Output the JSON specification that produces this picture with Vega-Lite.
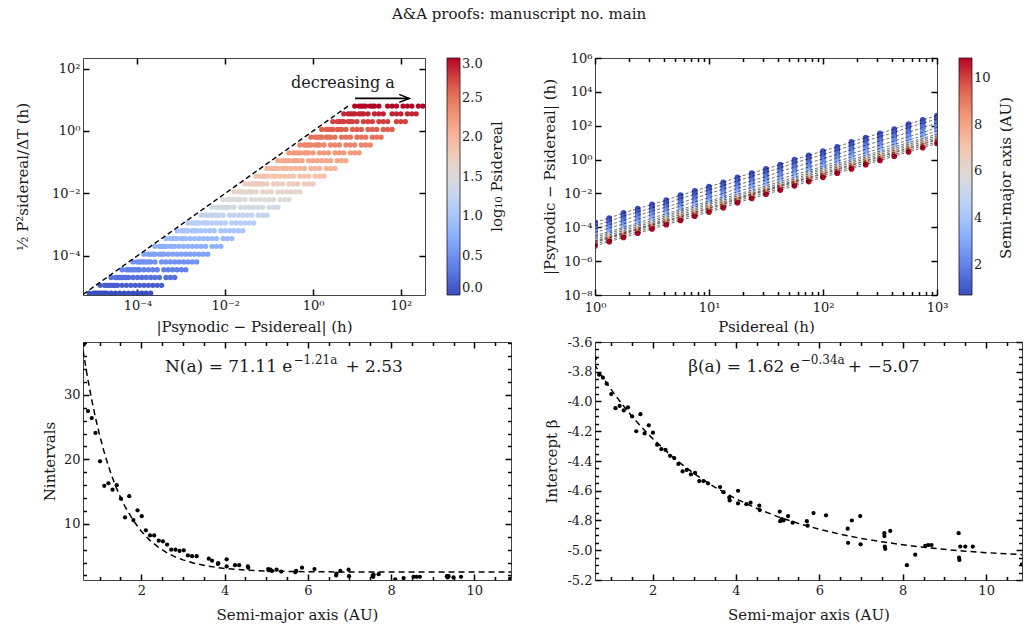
{
  "$schema": "https://vega.github.io/schema/vega-lite/v6.json",
  "usermeta": {"embedOptions": {"actions": false}},
  "background": "white",
  "padding": {"left": 14, "top": 6, "right": 5, "bottom": 5},
  "title": {"text": "A&A proofs: manuscript no. main", "font": "DejaVu Serif", "fontSize": 15, "fontWeight": "normal", "color": "#1a1a1a", "anchor": "middle", "offset": 30},
  "config": {
    "font": "DejaVu Serif",
    "view": {"stroke": "#444444", "strokeWidth": 1},
    "axis": {
      "domain": false, "grid": false, "zindex": 2,
      "labelFont": "DejaVu Serif", "labelFontSize": 13, "labelColor": "#1a1a1a",
      "titleFont": "DejaVu Serif", "titleFontSize": 15, "titleFontWeight": "normal", "titleColor": "#1a1a1a",
      "ticks": true, "tickColor": "#000000", "tickOpacity": 1, "tickWidth": 1.5, "tickSize": 6, "offset": -6, "labelPadding": 4,
      "labelFlush": false, "labelOverlap": false, "labelBound": false
    },
    "legend": {
      "gradientThickness": 13, "gradientLength": 237,
      "gradientStrokeColor": "#1a1a1a", "gradientStrokeWidth": 0.8,
      "labelFont": "DejaVu Serif", "labelFontSize": 13, "labelColor": "#1a1a1a", "labelOffset": 4,
      "offset": 21, "padding": 0
    }
  },
  "datasets": {
    "periods": [
      {"lp":0,"P":1,"h":6.31e-6},{"lp":0.125,"P":1.334,"h":1.12e-5},{"lp":0.25,"P":1.778,"h":2.0e-5},{"lp":0.375,"P":2.371,"h":3.55e-5},
      {"lp":0.5,"P":3.162,"h":6.31e-5},{"lp":0.625,"P":4.217,"h":1.12e-4},{"lp":0.75,"P":5.623,"h":2.0e-4},{"lp":0.875,"P":7.499,"h":3.55e-4},
      {"lp":1,"P":10,"h":6.31e-4},{"lp":1.125,"P":13.34,"h":1.12e-3},{"lp":1.25,"P":17.78,"h":2.0e-3},{"lp":1.375,"P":23.71,"h":3.55e-3},
      {"lp":1.5,"P":31.62,"h":6.31e-3},{"lp":1.625,"P":42.17,"h":1.12e-2},{"lp":1.75,"P":56.23,"h":2.0e-2},{"lp":1.875,"P":74.99,"h":3.55e-2},
      {"lp":2,"P":100,"h":6.31e-2},{"lp":2.125,"P":133.4,"h":0.112},{"lp":2.25,"P":177.8,"h":0.2},{"lp":2.375,"P":237.1,"h":0.355},
      {"lp":2.5,"P":316.2,"h":0.631},{"lp":2.625,"P":421.7,"h":1.12},{"lp":2.75,"P":562.3,"h":2.0},{"lp":2.875,"P":749.9,"h":3.55},
      {"lp":3,"P":1000,"h":6.31}
    ],
    "spread": [
      {"lp":0,"a":0.62,"dp":2e-4},{"lp":0.125,"a":0.62,"dp":3.55e-4},{"lp":0.25,"a":0.62,"dp":7.08e-4},{"lp":0.375,"a":0.62,"dp":1.26e-3},{"lp":0.5,"a":0.62,"dp":2.24e-3},{"lp":0.625,"a":0.62,"dp":3.98e-3},{"lp":0.75,"a":0.62,"dp":7.94e-3},{"lp":0.875,"a":0.62,"dp":1.41e-2},{"lp":1,"a":0.62,"dp":2.51e-2},{"lp":1.125,"a":0.62,"dp":4.47e-2},{"lp":1.25,"a":0.62,"dp":8.91e-2},{"lp":1.375,"a":0.62,"dp":0.158},{"lp":1.5,"a":0.62,"dp":0.282},{"lp":1.625,"a":0.62,"dp":0.501},{"lp":1.75,"a":0.62,"dp":1},{"lp":1.875,"a":0.62,"dp":1.78},{"lp":2,"a":0.62,"dp":3.16},{"lp":2.125,"a":0.62,"dp":5.62},{"lp":2.25,"a":0.62,"dp":11.2},{"lp":2.375,"a":0.62,"dp":20},{"lp":2.5,"a":0.62,"dp":35.5},{"lp":2.625,"a":0.62,"dp":63.1},{"lp":2.75,"a":0.62,"dp":126},{"lp":2.875,"a":0.62,"dp":224},{"lp":3,"a":0.62,"dp":398},
      {"lp":0,"a":0.72,"dp":1.58e-4},{"lp":0.125,"a":0.72,"dp":2.82e-4},{"lp":0.25,"a":0.72,"dp":5.62e-4},{"lp":0.375,"a":0.72,"dp":1e-3},{"lp":0.5,"a":0.72,"dp":1.78e-3},{"lp":0.625,"a":0.72,"dp":3.16e-3},{"lp":0.75,"a":0.72,"dp":6.31e-3},{"lp":0.875,"a":0.72,"dp":1.12e-2},{"lp":1,"a":0.72,"dp":2e-2},{"lp":1.125,"a":0.72,"dp":3.55e-2},{"lp":1.25,"a":0.72,"dp":7.08e-2},{"lp":1.375,"a":0.72,"dp":0.126},{"lp":1.5,"a":0.72,"dp":0.224},{"lp":1.625,"a":0.72,"dp":0.398},{"lp":1.75,"a":0.72,"dp":0.794},{"lp":1.875,"a":0.72,"dp":1.41},{"lp":2,"a":0.72,"dp":2.51},{"lp":2.125,"a":0.72,"dp":4.47},{"lp":2.25,"a":0.72,"dp":8.91},{"lp":2.375,"a":0.72,"dp":15.8},{"lp":2.5,"a":0.72,"dp":28.2},{"lp":2.625,"a":0.72,"dp":50.1},{"lp":2.75,"a":0.72,"dp":100},{"lp":2.875,"a":0.72,"dp":178},{"lp":3,"a":0.72,"dp":316},
      {"lp":0,"a":0.9,"dp":1.26e-4},{"lp":0.125,"a":0.9,"dp":2.24e-4},{"lp":0.25,"a":0.9,"dp":4.47e-4},{"lp":0.375,"a":0.9,"dp":7.94e-4},{"lp":0.5,"a":0.9,"dp":1.41e-3},{"lp":0.625,"a":0.9,"dp":2.51e-3},{"lp":0.75,"a":0.9,"dp":5.01e-3},{"lp":0.875,"a":0.9,"dp":8.91e-3},{"lp":1,"a":0.9,"dp":1.58e-2},{"lp":1.125,"a":0.9,"dp":2.82e-2},{"lp":1.25,"a":0.9,"dp":5.62e-2},{"lp":1.375,"a":0.9,"dp":0.1},{"lp":1.5,"a":0.9,"dp":0.178},{"lp":1.625,"a":0.9,"dp":0.316},{"lp":1.75,"a":0.9,"dp":0.631},{"lp":1.875,"a":0.9,"dp":1.12},{"lp":2,"a":0.9,"dp":2},{"lp":2.125,"a":0.9,"dp":3.55},{"lp":2.25,"a":0.9,"dp":7.08},{"lp":2.375,"a":0.9,"dp":12.6},{"lp":2.5,"a":0.9,"dp":22.4},{"lp":2.625,"a":0.9,"dp":39.8},{"lp":2.75,"a":0.9,"dp":79.4},{"lp":2.875,"a":0.9,"dp":141},{"lp":3,"a":0.9,"dp":251},
      {"lp":0,"a":1.21,"dp":1e-4},{"lp":0.125,"a":1.21,"dp":1.78e-4},{"lp":0.25,"a":1.21,"dp":3.16e-4},{"lp":0.375,"a":1.21,"dp":6.31e-4},{"lp":0.5,"a":1.21,"dp":1.12e-3},{"lp":0.625,"a":1.21,"dp":2e-3},{"lp":0.75,"a":1.21,"dp":3.55e-3},{"lp":0.875,"a":1.21,"dp":6.31e-3},{"lp":1,"a":1.21,"dp":1.26e-2},{"lp":1.125,"a":1.21,"dp":2.24e-2},{"lp":1.25,"a":1.21,"dp":3.98e-2},{"lp":1.375,"a":1.21,"dp":7.08e-2},{"lp":1.5,"a":1.21,"dp":0.126},{"lp":1.625,"a":1.21,"dp":0.251},{"lp":1.75,"a":1.21,"dp":0.447},{"lp":1.875,"a":1.21,"dp":0.794},{"lp":2,"a":1.21,"dp":1.41},{"lp":2.125,"a":1.21,"dp":2.51},{"lp":2.25,"a":1.21,"dp":5.01},{"lp":2.375,"a":1.21,"dp":8.91},{"lp":2.5,"a":1.21,"dp":15.8},{"lp":2.625,"a":1.21,"dp":28.2},{"lp":2.75,"a":1.21,"dp":50.1},{"lp":2.875,"a":1.21,"dp":100},{"lp":3,"a":1.21,"dp":178},
      {"lp":0,"a":1.51,"dp":7.94e-5},{"lp":0.125,"a":1.51,"dp":1.41e-4},{"lp":0.25,"a":1.51,"dp":2.51e-4},{"lp":0.375,"a":1.51,"dp":5.01e-4},{"lp":0.5,"a":1.51,"dp":8.91e-4},{"lp":0.625,"a":1.51,"dp":1.58e-3},{"lp":0.75,"a":1.51,"dp":2.82e-3},{"lp":0.875,"a":1.51,"dp":5.01e-3},{"lp":1,"a":1.51,"dp":1e-2},{"lp":1.125,"a":1.51,"dp":1.78e-2},{"lp":1.25,"a":1.51,"dp":3.16e-2},{"lp":1.375,"a":1.51,"dp":5.62e-2},{"lp":1.5,"a":1.51,"dp":0.1},{"lp":1.625,"a":1.51,"dp":0.2},{"lp":1.75,"a":1.51,"dp":0.355},{"lp":1.875,"a":1.51,"dp":0.631},{"lp":2,"a":1.51,"dp":1.12},{"lp":2.125,"a":1.51,"dp":2},{"lp":2.25,"a":1.51,"dp":3.98},{"lp":2.375,"a":1.51,"dp":7.08},{"lp":2.5,"a":1.51,"dp":12.6},{"lp":2.625,"a":1.51,"dp":22.4},{"lp":2.75,"a":1.51,"dp":39.8},{"lp":2.875,"a":1.51,"dp":79.4},{"lp":3,"a":1.51,"dp":141},
      {"lp":0,"a":2.01,"dp":6.31e-5},{"lp":0.125,"a":2.01,"dp":1.12e-4},{"lp":0.25,"a":2.01,"dp":2e-4},{"lp":0.375,"a":2.01,"dp":3.98e-4},{"lp":0.5,"a":2.01,"dp":7.08e-4},{"lp":0.625,"a":2.01,"dp":1.26e-3},{"lp":0.75,"a":2.01,"dp":2.24e-3},{"lp":0.875,"a":2.01,"dp":3.98e-3},{"lp":1,"a":2.01,"dp":7.94e-3},{"lp":1.125,"a":2.01,"dp":1.41e-2},{"lp":1.25,"a":2.01,"dp":2.51e-2},{"lp":1.375,"a":2.01,"dp":4.47e-2},{"lp":1.5,"a":2.01,"dp":7.94e-2},{"lp":1.625,"a":2.01,"dp":0.158},{"lp":1.75,"a":2.01,"dp":0.282},{"lp":1.875,"a":2.01,"dp":0.501},{"lp":2,"a":2.01,"dp":0.891},{"lp":2.125,"a":2.01,"dp":1.58},{"lp":2.25,"a":2.01,"dp":3.16},{"lp":2.375,"a":2.01,"dp":5.62},{"lp":2.5,"a":2.01,"dp":10},{"lp":2.625,"a":2.01,"dp":17.8},{"lp":2.75,"a":2.01,"dp":31.6},{"lp":2.875,"a":2.01,"dp":63.1},{"lp":3,"a":2.01,"dp":112},
      {"lp":0,"a":2.21,"dp":5.01e-5},{"lp":0.125,"a":2.21,"dp":8.91e-5},{"lp":0.25,"a":2.21,"dp":1.58e-4},{"lp":0.375,"a":2.21,"dp":2.82e-4},{"lp":0.5,"a":2.21,"dp":5.62e-4},{"lp":0.625,"a":2.21,"dp":1e-3},{"lp":0.75,"a":2.21,"dp":1.78e-3},{"lp":0.875,"a":2.21,"dp":3.16e-3},{"lp":1,"a":2.21,"dp":5.62e-3},{"lp":1.125,"a":2.21,"dp":1e-2},{"lp":1.25,"a":2.21,"dp":2e-2},{"lp":1.375,"a":2.21,"dp":3.55e-2},{"lp":1.5,"a":2.21,"dp":6.31e-2},{"lp":1.625,"a":2.21,"dp":0.112},{"lp":1.75,"a":2.21,"dp":0.2},{"lp":1.875,"a":2.21,"dp":0.355},{"lp":2,"a":2.21,"dp":0.631},{"lp":2.125,"a":2.21,"dp":1.26},{"lp":2.25,"a":2.21,"dp":2.24},{"lp":2.375,"a":2.21,"dp":3.98},{"lp":2.5,"a":2.21,"dp":7.08},{"lp":2.625,"a":2.21,"dp":12.6},{"lp":2.75,"a":2.21,"dp":22.4},{"lp":2.875,"a":2.21,"dp":39.8},{"lp":3,"a":2.21,"dp":79.4},
      {"lp":0,"a":2.62,"dp":3.98e-5},{"lp":0.125,"a":2.62,"dp":7.08e-5},{"lp":0.25,"a":2.62,"dp":1.26e-4},{"lp":0.375,"a":2.62,"dp":2.24e-4},{"lp":0.5,"a":2.62,"dp":4.47e-4},{"lp":0.625,"a":2.62,"dp":7.94e-4},{"lp":0.75,"a":2.62,"dp":1.41e-3},{"lp":0.875,"a":2.62,"dp":2.51e-3},{"lp":1,"a":2.62,"dp":4.47e-3},{"lp":1.125,"a":2.62,"dp":7.94e-3},{"lp":1.25,"a":2.62,"dp":1.58e-2},{"lp":1.375,"a":2.62,"dp":2.82e-2},{"lp":1.5,"a":2.62,"dp":5.01e-2},{"lp":1.625,"a":2.62,"dp":8.91e-2},{"lp":1.75,"a":2.62,"dp":0.158},{"lp":1.875,"a":2.62,"dp":0.282},{"lp":2,"a":2.62,"dp":0.501},{"lp":2.125,"a":2.62,"dp":1},{"lp":2.25,"a":2.62,"dp":1.78},{"lp":2.375,"a":2.62,"dp":3.16},{"lp":2.5,"a":2.62,"dp":5.62},{"lp":2.625,"a":2.62,"dp":10},{"lp":2.75,"a":2.62,"dp":17.8},{"lp":2.875,"a":2.62,"dp":31.6},{"lp":3,"a":2.62,"dp":63.1},
      {"lp":0,"a":3.02,"dp":3.16e-5},{"lp":0.125,"a":3.02,"dp":5.62e-5},{"lp":0.25,"a":3.02,"dp":1e-4},{"lp":0.375,"a":3.02,"dp":1.78e-4},{"lp":0.5,"a":3.02,"dp":3.55e-4},{"lp":0.625,"a":3.02,"dp":6.31e-4},{"lp":0.75,"a":3.02,"dp":1.12e-3},{"lp":0.875,"a":3.02,"dp":2e-3},{"lp":1,"a":3.02,"dp":3.55e-3},{"lp":1.125,"a":3.02,"dp":6.31e-3},{"lp":1.25,"a":3.02,"dp":1.26e-2},{"lp":1.375,"a":3.02,"dp":2.24e-2},{"lp":1.5,"a":3.02,"dp":3.98e-2},{"lp":1.625,"a":3.02,"dp":7.08e-2},{"lp":1.75,"a":3.02,"dp":0.126},{"lp":1.875,"a":3.02,"dp":0.224},{"lp":2,"a":3.02,"dp":0.398},{"lp":2.125,"a":3.02,"dp":0.794},{"lp":2.25,"a":3.02,"dp":1.41},{"lp":2.375,"a":3.02,"dp":2.51},{"lp":2.5,"a":3.02,"dp":4.47},{"lp":2.625,"a":3.02,"dp":7.94},{"lp":2.75,"a":3.02,"dp":14.1},{"lp":2.875,"a":3.02,"dp":25.1},{"lp":3,"a":3.02,"dp":50.1},
      {"lp":0,"a":3.7,"dp":2.51e-5},{"lp":0.125,"a":3.7,"dp":4.47e-5},{"lp":0.25,"a":3.7,"dp":7.94e-5},{"lp":0.375,"a":3.7,"dp":1.41e-4},{"lp":0.5,"a":3.7,"dp":2.51e-4},{"lp":0.625,"a":3.7,"dp":5.01e-4},{"lp":0.75,"a":3.7,"dp":8.91e-4},{"lp":0.875,"a":3.7,"dp":1.58e-3},{"lp":1,"a":3.7,"dp":2.82e-3},{"lp":1.125,"a":3.7,"dp":5.01e-3},{"lp":1.25,"a":3.7,"dp":8.91e-3},{"lp":1.375,"a":3.7,"dp":1.58e-2},{"lp":1.5,"a":3.7,"dp":2.82e-2},{"lp":1.625,"a":3.7,"dp":5.01e-2},{"lp":1.75,"a":3.7,"dp":8.91e-2},{"lp":1.875,"a":3.7,"dp":0.178},{"lp":2,"a":3.7,"dp":0.316},{"lp":2.125,"a":3.7,"dp":0.562},{"lp":2.25,"a":3.7,"dp":1},{"lp":2.375,"a":3.7,"dp":1.78},{"lp":2.5,"a":3.7,"dp":3.16},{"lp":2.625,"a":3.7,"dp":5.62},{"lp":2.75,"a":3.7,"dp":10},{"lp":2.875,"a":3.7,"dp":17.8},{"lp":3,"a":3.7,"dp":31.6},
      {"lp":0,"a":4.56,"dp":2e-5},{"lp":0.125,"a":4.56,"dp":3.55e-5},{"lp":0.25,"a":4.56,"dp":6.31e-5},{"lp":0.375,"a":4.56,"dp":1.12e-4},{"lp":0.5,"a":4.56,"dp":2e-4},{"lp":0.625,"a":4.56,"dp":3.98e-4},{"lp":0.75,"a":4.56,"dp":7.08e-4},{"lp":0.875,"a":4.56,"dp":1.26e-3},{"lp":1,"a":4.56,"dp":2.24e-3},{"lp":1.125,"a":4.56,"dp":3.98e-3},{"lp":1.25,"a":4.56,"dp":7.08e-3},{"lp":1.375,"a":4.56,"dp":1.26e-2},{"lp":1.5,"a":4.56,"dp":2.24e-2},{"lp":1.625,"a":4.56,"dp":3.98e-2},{"lp":1.75,"a":4.56,"dp":7.08e-2},{"lp":1.875,"a":4.56,"dp":0.141},{"lp":2,"a":4.56,"dp":0.251},{"lp":2.125,"a":4.56,"dp":0.447},{"lp":2.25,"a":4.56,"dp":0.794},{"lp":2.375,"a":4.56,"dp":1.41},{"lp":2.5,"a":4.56,"dp":2.51},{"lp":2.625,"a":4.56,"dp":4.47},{"lp":2.75,"a":4.56,"dp":7.94},{"lp":2.875,"a":4.56,"dp":14.1},{"lp":3,"a":4.56,"dp":25.1},
      {"lp":0,"a":5.05,"dp":1.78e-5},{"lp":0.125,"a":5.05,"dp":3.16e-5},{"lp":0.25,"a":5.05,"dp":5.62e-5},{"lp":0.375,"a":5.05,"dp":1e-4},{"lp":0.5,"a":5.05,"dp":1.78e-4},{"lp":0.625,"a":5.05,"dp":3.55e-4},{"lp":0.75,"a":5.05,"dp":6.31e-4},{"lp":0.875,"a":5.05,"dp":1.12e-3},{"lp":1,"a":5.05,"dp":2e-3},{"lp":1.125,"a":5.05,"dp":3.55e-3},{"lp":1.25,"a":5.05,"dp":6.31e-3},{"lp":1.375,"a":5.05,"dp":1.12e-2},{"lp":1.5,"a":5.05,"dp":2e-2},{"lp":1.625,"a":5.05,"dp":3.55e-2},{"lp":1.75,"a":5.05,"dp":6.31e-2},{"lp":1.875,"a":5.05,"dp":0.126},{"lp":2,"a":5.05,"dp":0.224},{"lp":2.125,"a":5.05,"dp":0.398},{"lp":2.25,"a":5.05,"dp":0.708},{"lp":2.375,"a":5.05,"dp":1.26},{"lp":2.5,"a":5.05,"dp":2.24},{"lp":2.625,"a":5.05,"dp":3.98},{"lp":2.75,"a":5.05,"dp":7.08},{"lp":2.875,"a":5.05,"dp":12.6},{"lp":3,"a":5.05,"dp":22.4},
      {"lp":0,"a":5.7,"dp":1.58e-5},{"lp":0.125,"a":5.7,"dp":2.82e-5},{"lp":0.25,"a":5.7,"dp":5.01e-5},{"lp":0.375,"a":5.7,"dp":8.91e-5},{"lp":0.5,"a":5.7,"dp":1.58e-4},{"lp":0.625,"a":5.7,"dp":3.16e-4},{"lp":0.75,"a":5.7,"dp":5.62e-4},{"lp":0.875,"a":5.7,"dp":1e-3},{"lp":1,"a":5.7,"dp":1.78e-3},{"lp":1.125,"a":5.7,"dp":3.16e-3},{"lp":1.25,"a":5.7,"dp":5.62e-3},{"lp":1.375,"a":5.7,"dp":1e-2},{"lp":1.5,"a":5.7,"dp":1.78e-2},{"lp":1.625,"a":5.7,"dp":3.16e-2},{"lp":1.75,"a":5.7,"dp":5.62e-2},{"lp":1.875,"a":5.7,"dp":0.112},{"lp":2,"a":5.7,"dp":0.2},{"lp":2.125,"a":5.7,"dp":0.355},{"lp":2.25,"a":5.7,"dp":0.631},{"lp":2.375,"a":5.7,"dp":1.12},{"lp":2.5,"a":5.7,"dp":2},{"lp":2.625,"a":5.7,"dp":3.55},{"lp":2.75,"a":5.7,"dp":6.31},{"lp":2.875,"a":5.7,"dp":11.2},{"lp":3,"a":5.7,"dp":20},
      {"lp":0,"a":6.68,"dp":1.41e-5},{"lp":0.125,"a":6.68,"dp":2.51e-5},{"lp":0.25,"a":6.68,"dp":4.47e-5},{"lp":0.375,"a":6.68,"dp":7.94e-5},{"lp":0.5,"a":6.68,"dp":1.41e-4},{"lp":0.625,"a":6.68,"dp":2.51e-4},{"lp":0.75,"a":6.68,"dp":4.47e-4},{"lp":0.875,"a":6.68,"dp":7.94e-4},{"lp":1,"a":6.68,"dp":1.41e-3},{"lp":1.125,"a":6.68,"dp":2.51e-3},{"lp":1.25,"a":6.68,"dp":5.01e-3},{"lp":1.375,"a":6.68,"dp":8.91e-3},{"lp":1.5,"a":6.68,"dp":1.58e-2},{"lp":1.625,"a":6.68,"dp":2.82e-2},{"lp":1.75,"a":6.68,"dp":5.01e-2},{"lp":1.875,"a":6.68,"dp":8.91e-2},{"lp":2,"a":6.68,"dp":0.158},{"lp":2.125,"a":6.68,"dp":0.282},{"lp":2.25,"a":6.68,"dp":0.501},{"lp":2.375,"a":6.68,"dp":0.891},{"lp":2.5,"a":6.68,"dp":1.58},{"lp":2.625,"a":6.68,"dp":2.82},{"lp":2.75,"a":6.68,"dp":5.01},{"lp":2.875,"a":6.68,"dp":8.91},{"lp":3,"a":6.68,"dp":15.8},
      {"lp":0,"a":6.99,"dp":1.12e-5},{"lp":0.125,"a":6.99,"dp":2e-5},{"lp":0.25,"a":6.99,"dp":3.55e-5},{"lp":0.375,"a":6.99,"dp":6.31e-5},{"lp":0.5,"a":6.99,"dp":1.12e-4},{"lp":0.625,"a":6.99,"dp":2e-4},{"lp":0.75,"a":6.99,"dp":3.55e-4},{"lp":0.875,"a":6.99,"dp":6.31e-4},{"lp":1,"a":6.99,"dp":1.12e-3},{"lp":1.125,"a":6.99,"dp":2e-3},{"lp":1.25,"a":6.99,"dp":3.98e-3},{"lp":1.375,"a":6.99,"dp":7.08e-3},{"lp":1.5,"a":6.99,"dp":1.26e-2},{"lp":1.625,"a":6.99,"dp":2.24e-2},{"lp":1.75,"a":6.99,"dp":3.98e-2},{"lp":1.875,"a":6.99,"dp":7.08e-2},{"lp":2,"a":6.99,"dp":0.126},{"lp":2.125,"a":6.99,"dp":0.224},{"lp":2.25,"a":6.99,"dp":0.398},{"lp":2.375,"a":6.99,"dp":0.708},{"lp":2.5,"a":6.99,"dp":1.26},{"lp":2.625,"a":6.99,"dp":2.24},{"lp":2.75,"a":6.99,"dp":3.98},{"lp":2.875,"a":6.99,"dp":7.08},{"lp":3,"a":6.99,"dp":12.6},
      {"lp":0,"a":7.56,"dp":1.26e-5},{"lp":0.125,"a":7.56,"dp":2.24e-5},{"lp":0.25,"a":7.56,"dp":3.98e-5},{"lp":0.375,"a":7.56,"dp":7.08e-5},{"lp":0.5,"a":7.56,"dp":1.26e-4},{"lp":0.625,"a":7.56,"dp":2.24e-4},{"lp":0.75,"a":7.56,"dp":3.98e-4},{"lp":0.875,"a":7.56,"dp":7.08e-4},{"lp":1,"a":7.56,"dp":1.26e-3},{"lp":1.125,"a":7.56,"dp":2.24e-3},{"lp":1.25,"a":7.56,"dp":4.47e-3},{"lp":1.375,"a":7.56,"dp":7.94e-3},{"lp":1.5,"a":7.56,"dp":1.41e-2},{"lp":1.625,"a":7.56,"dp":2.51e-2},{"lp":1.75,"a":7.56,"dp":4.47e-2},{"lp":1.875,"a":7.56,"dp":7.94e-2},{"lp":2,"a":7.56,"dp":0.141},{"lp":2.125,"a":7.56,"dp":0.251},{"lp":2.25,"a":7.56,"dp":0.447},{"lp":2.375,"a":7.56,"dp":0.794},{"lp":2.5,"a":7.56,"dp":1.41},{"lp":2.625,"a":7.56,"dp":2.51},{"lp":2.75,"a":7.56,"dp":4.47},{"lp":2.875,"a":7.56,"dp":7.94},{"lp":3,"a":7.56,"dp":14.1},
      {"lp":0,"a":8.54,"dp":1e-5},{"lp":0.125,"a":8.54,"dp":1.78e-5},{"lp":0.25,"a":8.54,"dp":3.16e-5},{"lp":0.375,"a":8.54,"dp":5.62e-5},{"lp":0.5,"a":8.54,"dp":1e-4},{"lp":0.625,"a":8.54,"dp":1.78e-4},{"lp":0.75,"a":8.54,"dp":3.16e-4},{"lp":0.875,"a":8.54,"dp":5.62e-4},{"lp":1,"a":8.54,"dp":1e-3},{"lp":1.125,"a":8.54,"dp":1.78e-3},{"lp":1.25,"a":8.54,"dp":3.55e-3},{"lp":1.375,"a":8.54,"dp":6.31e-3},{"lp":1.5,"a":8.54,"dp":1.12e-2},{"lp":1.625,"a":8.54,"dp":2e-2},{"lp":1.75,"a":8.54,"dp":3.55e-2},{"lp":1.875,"a":8.54,"dp":6.31e-2},{"lp":2,"a":8.54,"dp":0.112},{"lp":2.125,"a":8.54,"dp":0.2},{"lp":2.25,"a":8.54,"dp":0.355},{"lp":2.375,"a":8.54,"dp":0.631},{"lp":2.5,"a":8.54,"dp":1.12},{"lp":2.625,"a":8.54,"dp":2},{"lp":2.75,"a":8.54,"dp":3.55},{"lp":2.875,"a":8.54,"dp":6.31},{"lp":3,"a":8.54,"dp":11.2},
      {"lp":0,"a":10.86,"dp":7.94e-6},{"lp":0.125,"a":10.86,"dp":1.41e-5},{"lp":0.25,"a":10.86,"dp":2.51e-5},{"lp":0.375,"a":10.86,"dp":4.47e-5},{"lp":0.5,"a":10.86,"dp":7.94e-5},{"lp":0.625,"a":10.86,"dp":1.41e-4},{"lp":0.75,"a":10.86,"dp":2.51e-4},{"lp":0.875,"a":10.86,"dp":4.47e-4},{"lp":1,"a":10.86,"dp":7.94e-4},{"lp":1.125,"a":10.86,"dp":1.41e-3},{"lp":1.25,"a":10.86,"dp":2.82e-3},{"lp":1.375,"a":10.86,"dp":5.01e-3},{"lp":1.5,"a":10.86,"dp":8.91e-3},{"lp":1.625,"a":10.86,"dp":1.58e-2},{"lp":1.75,"a":10.86,"dp":2.82e-2},{"lp":1.875,"a":10.86,"dp":5.01e-2},{"lp":2,"a":10.86,"dp":8.91e-2},{"lp":2.125,"a":10.86,"dp":0.158},{"lp":2.25,"a":10.86,"dp":0.282},{"lp":2.375,"a":10.86,"dp":0.501},{"lp":2.5,"a":10.86,"dp":0.891},{"lp":2.625,"a":10.86,"dp":1.58},{"lp":2.75,"a":10.86,"dp":2.82},{"lp":2.875,"a":10.86,"dp":5.01},{"lp":3,"a":10.86,"dp":8.91}
    ],
    "objects": [
      {"a":0.62,"n":37.8,"beta":-3.71},{"a":0.72,"n":27.5,"beta":-3.82},{"a":0.81,"n":26.4,"beta":-3.84},{"a":0.9,"n":24.1,"beta":-3.88},
      {"a":1.01,"n":19.7,"beta":-3.95},{"a":1.11,"n":15.9,"beta":-4.045},{"a":1.21,"n":16.3,"beta":-4.03},{"a":1.31,"n":15.3,"beta":-4.06},
      {"a":1.41,"n":16.0,"beta":-4.04},{"a":1.51,"n":13.9,"beta":-4.1},{"a":1.61,"n":11.0,"beta":-4.2},{"a":1.71,"n":14.3,"beta":-4.085},
      {"a":1.81,"n":10.6,"beta":-4.215},{"a":1.91,"n":12.1,"beta":-4.16},{"a":2.01,"n":11.2,"beta":-4.21},{"a":2.11,"n":9.0,"beta":-4.29},
      {"a":2.21,"n":8.2,"beta":-4.32},{"a":2.31,"n":8.2,"beta":-4.325},{"a":2.42,"n":7.4,"beta":-4.365},{"a":2.52,"n":7.3,"beta":-4.38},
      {"a":2.62,"n":6.8,"beta":-4.42},{"a":2.72,"n":6.0,"beta":-4.47},{"a":2.82,"n":6.0,"beta":-4.46},{"a":2.92,"n":5.8,"beta":-4.49},
      {"a":3.02,"n":5.9,"beta":-4.48},{"a":3.12,"n":5.1,"beta":-4.535},{"a":3.22,"n":5.0,"beta":-4.535},{"a":3.33,"n":5.0,"beta":-4.55},
      {"a":3.62,"n":4.6,"beta":-4.575},{"a":3.7,"n":4.3,"beta":-4.61},{"a":3.84,"n":3.8,"beta":-4.645},{"a":3.85,"n":3.9,"beta":-4.665},
      {"a":4.05,"n":4.5,"beta":-4.6},{"a":4.05,"n":3.4,"beta":-4.685},{"a":4.25,"n":3.6,"beta":-4.69},{"a":4.35,"n":3.6,"beta":-4.68},
      {"a":4.56,"n":3.4,"beta":-4.7},{"a":4.57,"n":3.2,"beta":-4.73},{"a":5.05,"n":3.0,"beta":-4.74},{"a":5.06,"n":2.8,"beta":-4.805},
      {"a":5.1,"n":2.9,"beta":-4.79},{"a":5.14,"n":2.7,"beta":-4.8},{"a":5.25,"n":2.9,"beta":-4.77},{"a":5.36,"n":2.6,"beta":-4.815},
      {"a":5.7,"n":2.5,"beta":-4.805},{"a":5.72,"n":2.7,"beta":-4.835},{"a":5.86,"n":3.2,"beta":-4.75},{"a":6.16,"n":3.0,"beta":-4.765},
      {"a":6.68,"n":2.0,"beta":-4.855},{"a":6.69,"n":2.3,"beta":-4.95},{"a":6.78,"n":2.7,"beta":-4.8},{"a":6.98,"n":2.9,"beta":-4.77},
      {"a":6.99,"n":1.9,"beta":-4.96},{"a":7.56,"n":1.9,"beta":-4.885},{"a":7.56,"n":2.0,"beta":-4.905},{"a":7.57,"n":1.8,"beta":-4.975},
      {"a":7.58,"n":2.1,"beta":-4.99},{"a":7.7,"n":2.2,"beta":-4.87},{"a":8.1,"n":1.4,"beta":-5.1},{"a":8.3,"n":1.6,"beta":-5.03},
      {"a":8.54,"n":1.8,"beta":-4.97},{"a":8.61,"n":1.8,"beta":-4.965},{"a":8.69,"n":1.8,"beta":-4.965},{"a":9.34,"n":1.9,"beta":-4.885},
      {"a":9.35,"n":1.8,"beta":-5.05},{"a":9.36,"n":1.7,"beta":-5.065},{"a":9.38,"n":1.9,"beta":-4.975},{"a":9.5,"n":1.7,"beta":-4.975},
      {"a":9.68,"n":1.8,"beta":-4.975},{"a":10.86,"n":1.5,"beta":-5.095}
    ],
    "nfit": [
      {"a":0.6,"n":36.93},{"a":0.7,"n":33.02},{"a":0.8,"n":29.54},{"a":0.9,"n":26.46},{"a":1.0,"n":23.74},{"a":1.1,"n":21.32},
      {"a":1.2,"n":19.18},{"a":1.3,"n":17.28},{"a":1.4,"n":15.6},{"a":1.5,"n":14.11},{"a":1.6,"n":12.79},{"a":1.8,"n":10.59},
      {"a":2.0,"n":8.85},{"a":2.2,"n":7.49},{"a":2.4,"n":6.43},{"a":2.6,"n":5.59},{"a":2.8,"n":4.93},{"a":3.0,"n":4.42},
      {"a":3.3,"n":3.84},{"a":3.6,"n":3.44},{"a":4.0,"n":3.09},{"a":4.5,"n":2.84},{"a":5.0,"n":2.7},{"a":6.0,"n":2.58},
      {"a":7.0,"n":2.545},{"a":8.0,"n":2.535},{"a":10.88,"n":2.53}
    ],
    "bfit": [
      {"a":0.6,"beta":-3.749},{"a":0.8,"beta":-3.836},{"a":1.0,"beta":-3.917},{"a":1.25,"beta":-4.011},{"a":1.5,"beta":-4.097},
      {"a":1.75,"beta":-4.176},{"a":2.0,"beta":-4.249},{"a":2.5,"beta":-4.378},{"a":3.0,"beta":-4.486},{"a":3.5,"beta":-4.577},
      {"a":4.0,"beta":-4.654},{"a":4.5,"beta":-4.719},{"a":5.0,"beta":-4.774},{"a":5.5,"beta":-4.82},{"a":6.0,"beta":-4.859},
      {"a":6.5,"beta":-4.892},{"a":7.0,"beta":-4.92},{"a":7.5,"beta":-4.943},{"a":8.0,"beta":-4.963},{"a":8.5,"beta":-4.98},
      {"a":9.0,"beta":-4.994},{"a":9.5,"beta":-5.006},{"a":10.0,"beta":-5.016},{"a":10.88,"beta":-5.03}
    ],
    "diagonal": [{"v": 5.75e-6}, {"v": 6.5}]
  },
  "columns": 2,
  "bounds": "flush",
  "spacing": {"row": 47, "column": 84},
  "resolve": {"scale": {"x": "independent", "y": "independent", "color": "independent"}, "legend": {"color": "independent"}},
  "concat": [
    {
      "width": 342, "height": 237,
      "resolve": {"axis": {"x": "independent", "y": "independent"}},
      "layer": [
        {
          "data": {"name": "spread"},
          "transform": [{"lookup": "lp", "from": {"data": {"name": "periods"}, "key": "lp", "fields": ["P", "h"]}}],
          "mark": {"type": "circle", "size": 28, "opacity": 1, "clip": true},
          "encoding": {
            "x": {"field": "dp", "type": "quantitative", "scale": {"type": "log", "domain": [5.75e-6, 354.8], "nice": false},
                  "axis": {"orient": "bottom", "values": [0.0001, 0.01, 1, 100], "labelExpr": "'10' + (datum.value < 1 ? '⁻' : '') + ['⁰','¹','²','³','⁴','⁵','⁶','⁷','⁸','⁹'][round(abs(log(datum.value) / LN10))]", "title": "|Psynodic − Psidereal| (h)", "titlePadding": 7}},
            "y": {"field": "h", "type": "quantitative", "scale": {"type": "log", "domain": [5.5e-6, 218.8], "nice": false},
                  "axis": {"orient": "left", "values": [0.0001, 0.01, 1, 100], "labelPadding": 3, "labelExpr": "'10' + (datum.value < 1 ? '⁻' : '') + ['⁰','¹','²','³','⁴','⁵','⁶','⁷','⁸','⁹'][round(abs(log(datum.value) / LN10))]", "title": "½ P²sidereal/ΔT (h)", "titlePadding": 21}},
            "color": {"field": "lp", "type": "quantitative",
                      "scale": {"domain": [0, 0.375, 0.75, 1.125, 1.5, 1.875, 2.25, 2.625, 3], "range": ["#3b4cc0", "#6282ea", "#8db0fe", "#b8d0f9", "#dddcdc", "#f5c4ad", "#f49a7b", "#de604d", "#b40426"], "interpolate": "rgb"},
                      "legend": {"title": null, "values": [0, 0.5, 1, 1.5, 2, 2.5, 3], "format": ".1f"}}
          }
        },
        {
          "data": {"name": "diagonal"},
          "mark": {"type": "line", "color": "black", "strokeWidth": 1.4, "strokeDash": [5, 3], "clip": true},
          "encoding": {
            "x": {"field": "v", "type": "quantitative", "scale": {"type": "log", "nice": false}, "axis": {"orient": "top", "values": [0.0001, 0.01, 1, 100], "labels": false, "title": null}},
            "y": {"field": "v", "type": "quantitative", "scale": {"type": "log", "nice": false}, "axis": {"orient": "right", "values": [0.0001, 0.01, 1, 100], "labels": false, "title": null}}
          }
        },
        {
          "data": {"values": [{}]},
          "mark": {"type": "rule", "color": "black", "strokeWidth": 1.6},
          "encoding": {
            "x": {"datum": 9.06, "type": "quantitative", "scale": {"type": "log", "nice": false}, "axis": null},
            "x2": {"datum": 150},
            "y": {"datum": 11.1, "type": "quantitative", "scale": {"type": "log", "nice": false}, "axis": null}
          }
        },
        {
          "data": {"values": [{}]},
          "mark": {"type": "point", "shape": "M-2.5,-1L0,0L-2.5,1", "size": 64, "filled": false, "stroke": "black", "strokeWidth": 1.6, "opacity": 1},
          "encoding": {
            "x": {"datum": 155, "type": "quantitative", "scale": {"type": "log", "nice": false}, "axis": null},
            "y": {"datum": 11.1, "type": "quantitative", "scale": {"type": "log", "nice": false}, "axis": null}
          }
        },
        {
          "data": {"values": [{}]},
          "mark": {"type": "text", "text": "decreasing a", "font": "DejaVu Serif", "fontSize": 16, "align": "center", "baseline": "alphabetic", "color": "#1a1a1a"},
          "encoding": {
            "x": {"datum": 4.79, "type": "quantitative", "scale": {"type": "log", "nice": false}, "axis": null},
            "y": {"datum": 24.5, "type": "quantitative", "scale": {"type": "log", "nice": false}, "axis": null}
          }
        },
        {
          "data": {"values": [{}]},
          "mark": {"type": "text", "text": "log₁₀ Psidereal", "font": "DejaVu Serif", "fontSize": 15, "angle": 270, "align": "center", "baseline": "middle", "color": "#1a1a1a"},
          "encoding": {
            "x": {"datum": 15900, "type": "quantitative", "scale": {"type": "log", "nice": false}, "axis": null},
            "y": {"datum": 0.0347, "type": "quantitative", "scale": {"type": "log", "nice": false}, "axis": null}
          }
        }
      ]
    },
    {
      "width": 342, "height": 237,
      "resolve": {"axis": {"x": "independent", "y": "independent"}},
      "layer": [
        {
          "data": {"name": "spread"},
          "transform": [{"lookup": "lp", "from": {"data": {"name": "periods"}, "key": "lp", "fields": ["P", "h"]}}],
          "mark": {"type": "circle", "size": 32, "opacity": 1, "clip": true},
          "encoding": {
            "x": {"field": "P", "type": "quantitative", "scale": {"type": "log", "domain": [1, 1000], "nice": false},
                  "axis": {"orient": "bottom", "values": [1, 10, 100, 1000],
                           "labelExpr": "'10' + ['⁰','¹','²','³'][round(log(datum.value)/LN10)]",
                           "labelPadding": 6, "title": "Psidereal (h)", "titlePadding": 5}},
            "y": {"field": "dp", "type": "quantitative", "scale": {"type": "log", "domain": [1e-8, 1e6], "nice": false},
                  "axis": {"orient": "left", "values": [1e-8, 1e-6, 1e-4, 0.01, 1, 100, 10000, 1000000], "labelPadding": 3, "labelExpr": "'10' + (datum.value < 1 ? '⁻' : '') + ['⁰','¹','²','³','⁴','⁵','⁶','⁷','⁸','⁹'][round(abs(log(datum.value) / LN10))]", "title": "|Psynodic − Psidereal| (h)", "titlePadding": 6}},
            "color": {"field": "a", "type": "quantitative",
                      "scale": {"domain": [0.7, 1.97, 3.24, 4.51, 5.78, 7.05, 8.32, 9.59, 10.86], "range": ["#3b4cc0", "#6282ea", "#8db0fe", "#b8d0f9", "#dddcdc", "#f5c4ad", "#f49a7b", "#de604d", "#b40426"], "interpolate": "rgb", "clamp": true},
                      "legend": {"title": null, "values": [2, 4, 6, 8, 10], "format": "d"}}
          }
        },
        {
          "data": {"name": "spread"},
          "transform": [
            {"filter": {"field": "a", "oneOf": [0.62, 0.9, 1.51, 2.21, 3.02, 3.7, 4.56, 5.7, 6.68, 7.56, 8.54, 10.86]}},
            {"lookup": "lp", "from": {"data": {"name": "periods"}, "key": "lp", "fields": ["P"]}}
          ],
          "mark": {"type": "line", "color": "black", "strokeWidth": 0.8, "strokeDash": [3, 2], "opacity": 0.7, "clip": true},
          "encoding": {
            "detail": {"field": "a", "type": "nominal"},
            "x": {"field": "P", "type": "quantitative", "scale": {"type": "log", "nice": false},
                  "axis": {"orient": "top", "values": [1, 10, 100, 1000], "labels": false, "title": null}},
            "y": {"field": "dp", "type": "quantitative", "scale": {"type": "log", "nice": false},
                  "axis": {"orient": "right", "values": [1e-8, 1e-6, 1e-4, 0.01, 1, 100, 10000, 1000000], "labels": false, "title": null}}
          }
        },
        {
          "data": {"values": [{}]},
          "mark": {"type": "text", "text": "Semi-major axis (AU)", "font": "DejaVu Serif", "fontSize": 15, "angle": 270, "align": "center", "baseline": "middle", "color": "#1a1a1a"},
          "encoding": {
            "x": {"datum": 4046, "type": "quantitative", "scale": {"type": "log", "nice": false},
                  "axis": {"orient": "bottom", "values": [2,3,4,5,6,7,8,9,20,30,40,50,60,70,80,90,200,300,400,500,600,700,800,900], "labels": false, "title": null, "tickSize": 3.5, "offset": -3.5}},
            "y": {"datum": 0.0813, "type": "quantitative", "scale": {"type": "log", "nice": false}, "axis": null}
          }
        },
        {
          "data": {"values": [{}]},
          "mark": {"type": "text", "text": ""},
          "encoding": {
            "x": {"datum": 10, "type": "quantitative", "scale": {"type": "log", "nice": false},
                  "axis": {"orient": "top", "values": [2,3,4,5,6,7,8,9,20,30,40,50,60,70,80,90,200,300,400,500,600,700,800,900], "labels": false, "title": null, "tickSize": 3.5, "offset": -3.5}},
            "y": {"datum": 1, "type": "quantitative", "scale": {"type": "log", "nice": false}, "axis": null}
          }
        }
      ]
    },
    {
      "width": 428, "height": 238,
      "resolve": {"axis": {"x": "independent", "y": "independent"}},
      "layer": [
        {
          "data": {"name": "objects"},
          "mark": {"type": "circle", "size": 18, "color": "black", "opacity": 1, "clip": true},
          "encoding": {
            "x": {"field": "a", "type": "quantitative", "scale": {"domain": [0.6, 10.88], "nice": false, "zero": false},
                  "axis": {"orient": "bottom", "values": [2, 4, 6, 8, 10], "format": "d", "title": "Semi-major axis (AU)", "titlePadding": 10}},
            "y": {"field": "n", "type": "quantitative", "scale": {"domain": [1.3, 38.2], "nice": false, "zero": false},
                  "axis": {"orient": "left", "values": [10, 20, 30], "format": "d", "labelPadding": 3, "title": "Nintervals", "titlePadding": 6}}
          }
        },
        {
          "data": {"name": "nfit"},
          "mark": {"type": "line", "color": "black", "strokeWidth": 1.5, "strokeDash": [6, 4], "clip": true},
          "encoding": {
            "x": {"field": "a", "type": "quantitative", "axis": {"orient": "top", "values": [2, 4, 6, 8, 10], "labels": false, "title": null}},
            "y": {"field": "n", "type": "quantitative", "axis": {"orient": "right", "values": [10, 20, 30], "labels": false, "title": null}}
          }
        },
        {
          "data": {"values": [{}]},
          "mark": {"type": "text", "text": "N(a) = 71.11 e", "font": "DejaVu Serif", "fontSize": 17, "align": "right", "baseline": "alphabetic", "color": "#1a1a1a"},
          "encoding": {
            "x": {"datum": 5.63, "type": "quantitative", "axis": {"orient": "bottom", "values": [1,1.5,2.5,3,3.5,4.5,5,5.5,6.5,7,7.5,8.5,9,9.5,10.5], "labels": false, "title": null, "tickSize": 3.5, "offset": -3.5}},
            "y": {"datum": 33.55, "type": "quantitative", "axis": {"orient": "left", "values": [2,4,6,8,12,14,16,18,22,24,26,28,32,34,36,38], "labels": false, "title": null, "tickSize": 3.5, "offset": -3.5}}
          }
        },
        {
          "data": {"values": [{}]},
          "mark": {"type": "text", "text": "−1.21a", "font": "DejaVu Serif", "fontSize": 12, "align": "left", "baseline": "alphabetic", "dx": 1, "dy": -8, "color": "#1a1a1a"},
          "encoding": {
            "x": {"datum": 5.63, "type": "quantitative", "axis": {"orient": "top", "values": [1,1.5,2.5,3,3.5,4.5,5,5.5,6.5,7,7.5,8.5,9,9.5,10.5], "labels": false, "title": null, "tickSize": 3.5, "offset": -3.5}},
            "y": {"datum": 33.55, "type": "quantitative", "axis": {"orient": "right", "values": [2,4,6,8,12,14,16,18,22,24,26,28,32,34,36,38], "labels": false, "title": null, "tickSize": 3.5, "offset": -3.5}}
          }
        },
        {
          "data": {"values": [{}]},
          "mark": {"type": "text", "text": "+ 2.53", "font": "DejaVu Serif", "fontSize": 17, "align": "left", "baseline": "alphabetic", "dx": 53, "color": "#1a1a1a"},
          "encoding": {"x": {"datum": 5.63, "type": "quantitative", "axis": null}, "y": {"datum": 33.55, "type": "quantitative", "axis": null}}
        }
      ]
    },
    {
      "width": 427, "height": 238,
      "resolve": {"axis": {"x": "independent", "y": "independent"}},
      "layer": [
        {
          "data": {"name": "objects"},
          "mark": {"type": "circle", "size": 18, "color": "black", "opacity": 1, "clip": true},
          "encoding": {
            "x": {"field": "a", "type": "quantitative", "scale": {"domain": [0.62, 10.86], "nice": false, "zero": false},
                  "axis": {"orient": "bottom", "values": [2, 4, 6, 8, 10], "format": "d", "title": "Semi-major axis (AU)", "titlePadding": 10}},
            "y": {"field": "beta", "type": "quantitative", "scale": {"domain": [-5.2, -3.6], "nice": false, "zero": false},
                  "axis": {"orient": "left", "values": [-5.2, -5, -4.8, -4.6, -4.4, -4.2, -4, -3.8, -3.6], "labelPadding": 3,
                           "labelExpr": "replace(format(datum.value, '.1f'), '−', '-')", "title": "Intercept β", "titlePadding": 7}}
          }
        },
        {
          "data": {"name": "bfit"},
          "mark": {"type": "line", "color": "black", "strokeWidth": 1.5, "strokeDash": [6, 4], "clip": true},
          "encoding": {
            "x": {"field": "a", "type": "quantitative", "axis": {"orient": "top", "values": [2, 4, 6, 8, 10], "labels": false, "title": null}},
            "y": {"field": "beta", "type": "quantitative", "axis": {"orient": "right", "values": [-5.2, -5, -4.8, -4.6, -4.4, -4.2, -4, -3.8, -3.6], "labels": false, "title": null}}
          }
        },
        {
          "data": {"values": [{}]},
          "mark": {"type": "text", "text": "β(a) = 1.62 e", "font": "DejaVu Serif", "fontSize": 17, "align": "right", "baseline": "alphabetic", "color": "#1a1a1a"},
          "encoding": {
            "x": {"datum": 5.53, "type": "quantitative", "axis": {"orient": "bottom", "values": [1,1.5,2.5,3,3.5,4.5,5,5.5,6.5,7,7.5,8.5,9,9.5,10.5], "labels": false, "title": null, "tickSize": 3.5, "offset": -3.5}},
            "y": {"datum": -3.8, "type": "quantitative", "axis": {"orient": "left", "values": [-5.15,-5.1,-5.05,-4.95,-4.9,-4.85,-4.75,-4.7,-4.65,-4.55,-4.5,-4.45,-4.35,-4.3,-4.25,-4.15,-4.1,-4.05,-3.95,-3.9,-3.85,-3.75,-3.7,-3.65], "labels": false, "title": null, "tickSize": 3.5, "offset": -3.5}}
          }
        },
        {
          "data": {"values": [{}]},
          "mark": {"type": "text", "text": "−0.34a", "font": "DejaVu Serif", "fontSize": 12, "align": "left", "baseline": "alphabetic", "dx": 1, "dy": -8, "color": "#1a1a1a"},
          "encoding": {
            "x": {"datum": 5.53, "type": "quantitative", "axis": {"orient": "top", "values": [1,1.5,2.5,3,3.5,4.5,5,5.5,6.5,7,7.5,8.5,9,9.5,10.5], "labels": false, "title": null, "tickSize": 3.5, "offset": -3.5}},
            "y": {"datum": -3.8, "type": "quantitative", "axis": {"orient": "right", "values": [-5.15,-5.1,-5.05,-4.95,-4.9,-4.85,-4.75,-4.7,-4.65,-4.55,-4.5,-4.45,-4.35,-4.3,-4.25,-4.15,-4.1,-4.05,-3.95,-3.9,-3.85,-3.75,-3.7,-3.65], "labels": false, "title": null, "tickSize": 3.5, "offset": -3.5}}
          }
        },
        {
          "data": {"values": [{}]},
          "mark": {"type": "text", "text": "+ −5.07", "font": "DejaVu Serif", "fontSize": 17, "align": "left", "baseline": "alphabetic", "dx": 48, "color": "#1a1a1a"},
          "encoding": {"x": {"datum": 5.53, "type": "quantitative", "axis": null}, "y": {"datum": -3.8, "type": "quantitative", "axis": null}}
        }
      ]
    }
  ]
}
